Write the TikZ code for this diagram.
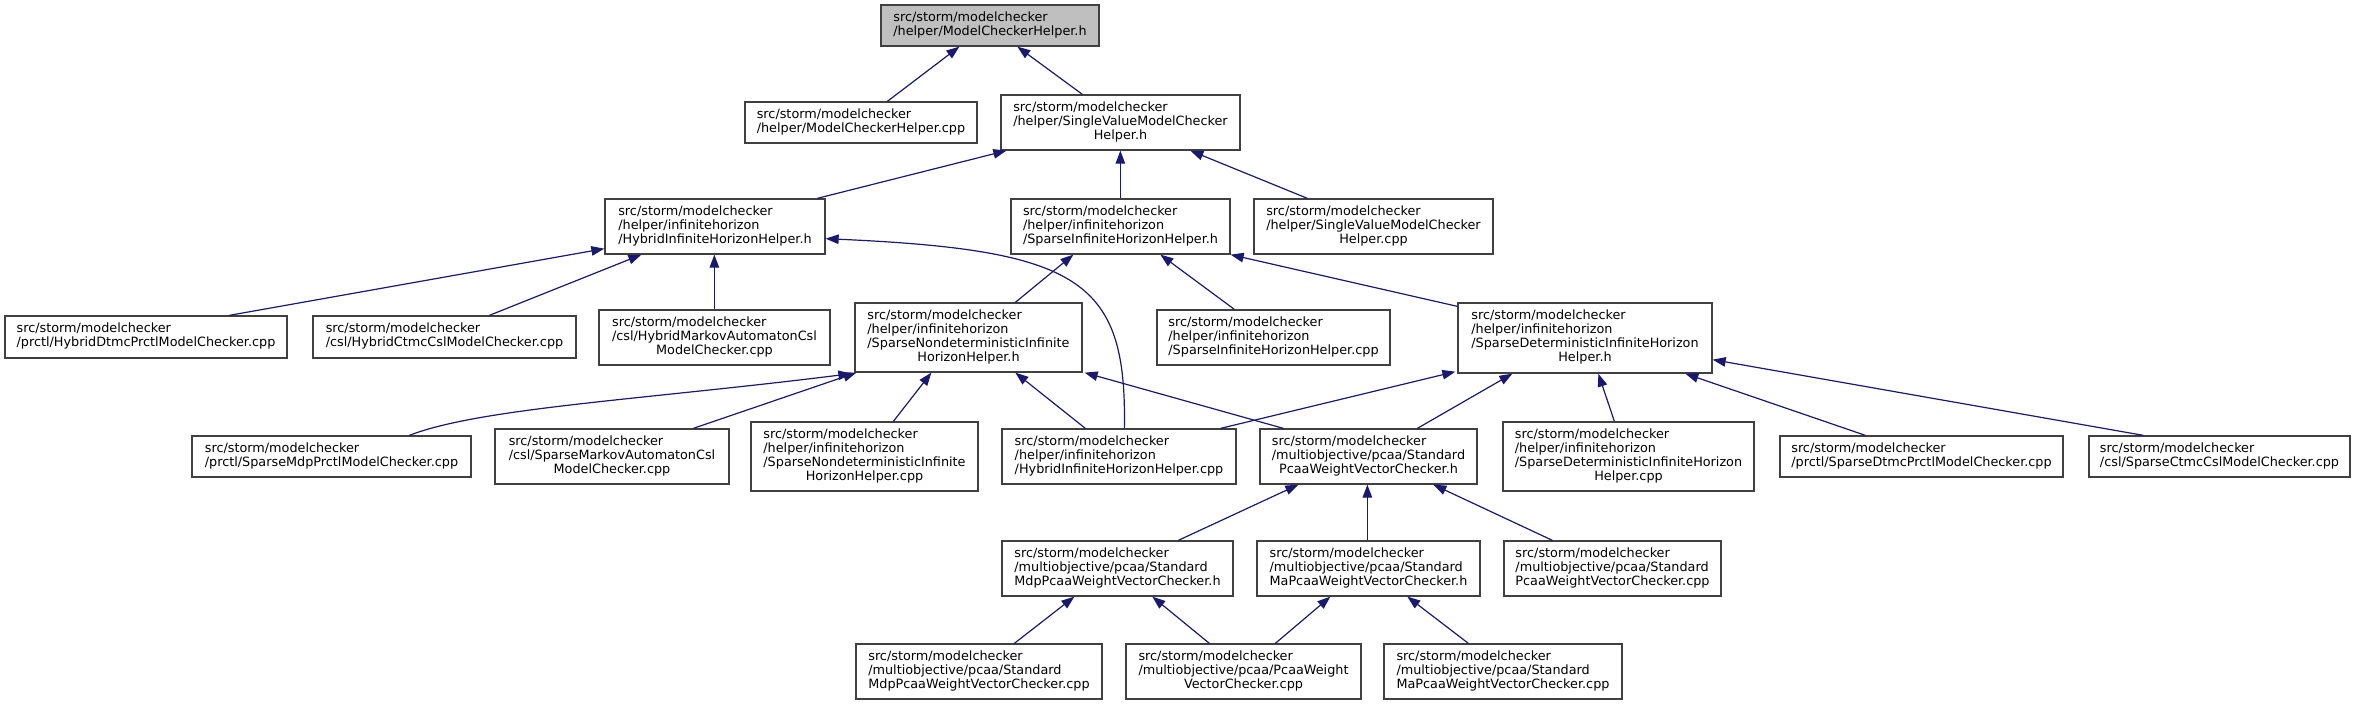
\documentclass[tikz,border=0pt]{standalone}
\usepackage{fontspec}
\setmainfont{DejaVu Sans}
\usetikzlibrary{arrows.meta}
\definecolor{edgeblue}{RGB}{25,25,112}
\definecolor{rootgray}{RGB}{191,191,191}
\definecolor{boxline}{RGB}{64,64,64}
\newcommand\lastln[1]{\multicolumn{1}{@{}c@{}}{#1}}
\newcommand\mkbox[7][white]{\node[fbox, fill=#1, minimum width={(#5-#3)*1pt}, minimum height={(#6-#4)*1pt}] (#2) at ({(#3+#5)/2},{(#4+#6)/2}) {\begin{tabular}{@{}l@{}}#7\end{tabular}};}
\tikzset{
  fbox/.style={draw=boxline, line width=1.3pt, inner sep=0pt, font={\fontsize{12.8}{14}\selectfont}},
  edge/.style={draw=edgeblue, line width=1.2pt, >={Triangle[length=13pt,width=9.5pt]}, <-}
}
\begin{document}
\begin{tikzpicture}[x=1pt,y=-1pt]
\fill[white] (0,0) rectangle (2358,705);
\useasboundingbox (0,0) rectangle (2358,705);
\renewcommand{\arraystretch}{1}
% nodes
\mkbox[rootgray]{root}{881}{5}{1099}{46}{src/storm/modelchecker\\\lastln{/helper/ModelCheckerHelper.h}}
\mkbox{mchcpp}{745}{102}{977}{143}{src/storm/modelchecker\\\lastln{/helper/ModelCheckerHelper.cpp}}
\mkbox{svmch}{1001}{95}{1240}{150}{src/storm/modelchecker\\/helper/SingleValueModelChecker\\\lastln{Helper.h}}
\mkbox{hyb}{605}{199}{825}{254}{src/storm/modelchecker\\/helper/infinitehorizon\\\lastln{/HybridInfiniteHorizonHelper.h}}
\mkbox{sihh}{1011}{199}{1230}{254}{src/storm/modelchecker\\/helper/infinitehorizon\\\lastln{/SparseInfiniteHorizonHelper.h}}
\mkbox{svmcpp}{1254}{199}{1493}{254}{src/storm/modelchecker\\/helper/SingleValueModelChecker\\\lastln{Helper.cpp}}
\mkbox{hdtmc}{5}{316}{287}{358}{src/storm/modelchecker\\\lastln{/prctl/HybridDtmcPrctlModelChecker.cpp}}
\mkbox{hctmc}{313}{316}{576}{358}{src/storm/modelchecker\\\lastln{/csl/HybridCtmcCslModelChecker.cpp}}
\mkbox{hma}{599}{310}{830}{365}{src/storm/modelchecker\\/csl/HybridMarkovAutomatonCsl\\\lastln{ModelChecker.cpp}}
\mkbox{snd}{855}{303}{1082}{372}{src/storm/modelchecker\\/helper/infinitehorizon\\/SparseNondeterministicInfinite\\\lastln{HorizonHelper.h}}
\mkbox{sihhcpp}{1157}{310}{1390}{365}{src/storm/modelchecker\\/helper/infinitehorizon\\\lastln{/SparseInfiniteHorizonHelper.cpp}}
\mkbox{sdet}{1458}{303}{1712}{373}{src/storm/modelchecker\\/helper/infinitehorizon\\/SparseDeterministicInfiniteHorizon\\\lastln{Helper.h}}
\mkbox{smdp}{192}{436}{471}{477}{src/storm/modelchecker\\\lastln{/prctl/SparseMdpPrctlModelChecker.cpp}}
\mkbox{smacsl}{495}{429}{729}{484}{src/storm/modelchecker\\/csl/SparseMarkovAutomatonCsl\\\lastln{ModelChecker.cpp}}
\mkbox{sndcpp}{751}{422}{978}{491}{src/storm/modelchecker\\/helper/infinitehorizon\\/SparseNondeterministicInfinite\\\lastln{HorizonHelper.cpp}}
\mkbox{hihhcpp}{1002}{429}{1236}{484}{src/storm/modelchecker\\/helper/infinitehorizon\\\lastln{/HybridInfiniteHorizonHelper.cpp}}
\mkbox{stdpcaa}{1260}{429}{1477}{484}{src/storm/modelchecker\\/multiobjective/pcaa/Standard\\\lastln{PcaaWeightVectorChecker.h}}
\mkbox{sdetcpp}{1503}{422}{1754}{491}{src/storm/modelchecker\\/helper/infinitehorizon\\/SparseDeterministicInfiniteHorizon\\\lastln{Helper.cpp}}
\mkbox{sdtmc}{1780}{436}{2063}{477}{src/storm/modelchecker\\\lastln{/prctl/SparseDtmcPrctlModelChecker.cpp}}
\mkbox{sctmc}{2089}{436}{2350}{477}{src/storm/modelchecker\\\lastln{/csl/SparseCtmcCslModelChecker.cpp}}
\mkbox{stdmdph}{1002}{541}{1233}{596}{src/storm/modelchecker\\/multiobjective/pcaa/Standard\\\lastln{MdpPcaaWeightVectorChecker.h}}
\mkbox{stdmah}{1257}{541}{1480}{596}{src/storm/modelchecker\\/multiobjective/pcaa/Standard\\\lastln{MaPcaaWeightVectorChecker.h}}
\mkbox{stdpcaacpp}{1504}{541}{1721}{596}{src/storm/modelchecker\\/multiobjective/pcaa/Standard\\\lastln{PcaaWeightVectorChecker.cpp}}
\mkbox{stdmdpcpp}{856}{644}{1102}{699}{src/storm/modelchecker\\/multiobjective/pcaa/Standard\\\lastln{MdpPcaaWeightVectorChecker.cpp}}
\mkbox{pcaawvc}{1126}{644}{1361}{699}{src/storm/modelchecker\\/multiobjective/pcaa/PcaaWeight\\\lastln{VectorChecker.cpp}}
\mkbox{stdmacpp}{1384}{644}{1622}{699}{src/storm/modelchecker\\/multiobjective/pcaa/Standard\\\lastln{MaPcaaWeightVectorChecker.cpp}}
% edges (arrow at the included header)
\draw[edge] ([shift={(79,0)}]root.south west) -- ([shift={(143,0)}]mchcpp.north west);
\draw[edge] ([shift={(137,0)}]root.south west) -- ([shift={(82,0)}]svmch.north west);
\draw[edge] ([shift={(6,0)}]svmch.south west) -- ([shift={(213,0)}]hyb.north west);
\draw[edge] ([shift={(120,0)}]svmch.south west) -- ([shift={(110,0)}]sihh.north west);
\draw[edge] ([shift={(190,0)}]svmch.south west) -- ([shift={(54,0)}]svmcpp.north west);
\draw[edge] ([shift={(0,-6)}]hyb.south west) -- ([shift={(225,0)}]hdtmc.north west);
\draw[edge] ([shift={(37,0)}]hyb.south west) -- ([shift={(177,0)}]hctmc.north west);
\draw[edge] ([shift={(110,0)}]hyb.south west) -- ([shift={(116,0)}]hma.north west);
\draw[edge] ([shift={(0,-16)}]hyb.south east) .. controls (1080,250) and (1127,280) .. ([shift={(123,0)}]hihhcpp.north west);
\draw[edge] ([shift={(63,0)}]sihh.south west) -- ([shift={(161,0)}]snd.north west);
\draw[edge] ([shift={(150,0)}]sihh.south west) -- ([shift={(78,0)}]sihhcpp.north west);
\draw[edge] (sihh.south east) -- ([shift={(0,4)}]sdet.north west);
\draw[edge] ([shift={(-3,1)}]snd.south west) .. controls (640,400) and (480,408) .. ([shift={(218,0)}]smdp.north west);
\draw[edge] ([shift={(2,0)}]snd.south west) -- ([shift={(199,0)}]smacsl.north west);
\draw[edge] ([shift={(77,0)}]snd.south west) -- ([shift={(143,0)}]sndcpp.north west);
\draw[edge] ([shift={(161,0)}]snd.south west) -- ([shift={(84,0)}]hihhcpp.north west);
\draw[edge] ([shift={(2,0)}]snd.south east) -- ([shift={(24,0)}]stdpcaa.north west);
\draw[edge] ([shift={(-2,-2)}]sdet.south west) -- ([shift={(-16,0)}]hihhcpp.north east);
\draw[edge] ([shift={(55,0)}]sdet.south west) -- ([shift={(158,0)}]stdpcaa.north west);
\draw[edge] ([shift={(141,0)}]sdet.south west) -- ([shift={(112,0)}]sdetcpp.north west);
\draw[edge] ([shift={(228,0)}]sdet.south west) -- ([shift={(86,0)}]sdtmc.north west);
\draw[edge] ([shift={(0,-14)}]sdet.south east) -- ([shift={(55,0)}]sctmc.north west);
\draw[edge] ([shift={(39,0)}]stdpcaa.south west) -- ([shift={(177,0)}]stdmdph.north west);
\draw[edge] ([shift={(108,0)}]stdpcaa.south west) -- ([shift={(111,0)}]stdmah.north west);
\draw[edge] ([shift={(174,0)}]stdpcaa.south west) -- ([shift={(49,0)}]stdpcaacpp.north west);
\draw[edge] ([shift={(73,0)}]stdmdph.south west) -- ([shift={(159,0)}]stdmdpcpp.north west);
\draw[edge] ([shift={(151,0)}]stdmdph.south west) -- ([shift={(84,0)}]pcaawvc.north west);
\draw[edge] ([shift={(74,0)}]stdmah.south west) -- ([shift={(150,0)}]pcaawvc.north west);
\draw[edge] ([shift={(151,0)}]stdmah.south west) -- ([shift={(85,0)}]stdmacpp.north west);
\end{tikzpicture}
\end{document}
